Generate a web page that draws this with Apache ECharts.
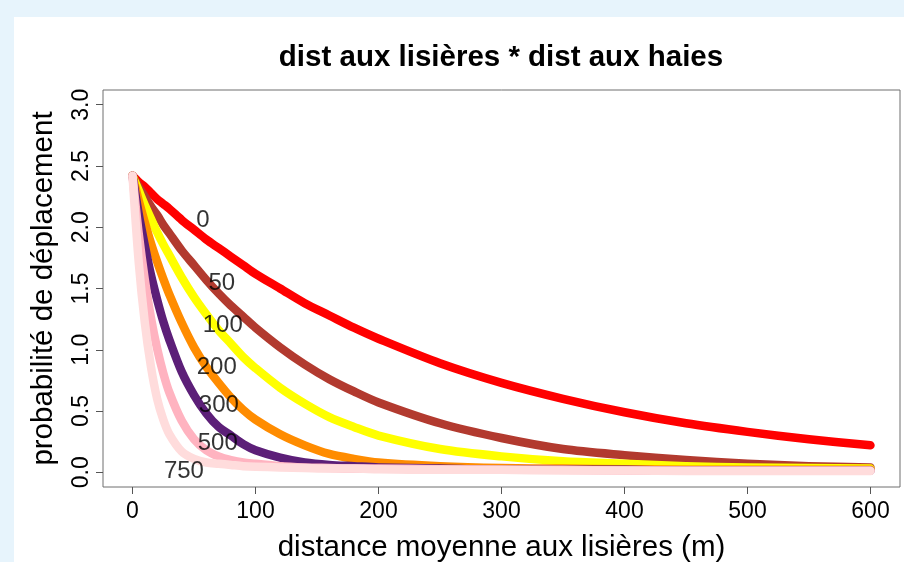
<!DOCTYPE html>
<html>
<head>
<meta charset="utf-8">
<script src="https://cdn.jsdelivr.net/npm/echarts@6/dist/echarts.min.js"></script>
<style>
  html, body { margin: 0; padding: 0; width: 904px; height: 562px; overflow: hidden; background: #e7f4fc; }
  #panel { position: absolute; left: 14px; top: 17px; width: 890px; height: 545px; background: #ffffff; }
  #chart { position: absolute; left: 0; top: 0; width: 904px; height: 562px; }
</style>
</head>
<body>
<div id="panel"></div>
<div id="chart"></div>
<script>
// Distance moyenne aux lisières (m)
const xs = [0, 5, 10, 15, 20, 25, 30, 40, 50, 60, 70, 80, 90, 100, 120, 140, 160, 180, 200, 250, 300, 350, 400, 450, 500, 550, 600];

// Distance aux haies (m), one curve per value
const hedgeDist = ['0', '50', '100', '200', '300', '500', '750'];

// Probabilité de déplacement for each hedge distance
const p0   = [2.42, 2.37, 2.33, 2.28, 2.23, 2.19, 2.15, 2.06, 1.98, 1.90, 1.83, 1.76, 1.69, 1.62, 1.50, 1.38, 1.28, 1.18, 1.09, 0.89, 0.73, 0.60, 0.49, 0.40, 0.33, 0.27, 0.22];
const p50  = [2.42, 2.33, 2.25, 2.17, 2.10, 2.02, 1.95, 1.81, 1.69, 1.57, 1.46, 1.36, 1.27, 1.18, 1.02, 0.88, 0.76, 0.66, 0.57, 0.40, 0.28, 0.19, 0.14, 0.10, 0.07, 0.05, 0.04];
const p100 = [2.42, 2.30, 2.18, 2.07, 1.96, 1.86, 1.77, 1.59, 1.43, 1.29, 1.16, 1.05, 0.94, 0.85, 0.69, 0.56, 0.45, 0.37, 0.30, 0.19, 0.13, 0.09, 0.07, 0.05, 0.04, 0.035, 0.03];
const p200 = [2.42, 2.22, 2.04, 1.87, 1.72, 1.58, 1.45, 1.22, 1.02, 0.86, 0.73, 0.61, 0.51, 0.43, 0.31, 0.22, 0.15, 0.11, 0.08, 0.05, 0.035, 0.03, 0.025, 0.02, 0.02, 0.02, 0.02];
const p300 = [2.42, 2.11, 1.85, 1.61, 1.41, 1.23, 1.08, 0.82, 0.63, 0.48, 0.37, 0.30, 0.23, 0.18, 0.12, 0.08, 0.06, 0.05, 0.04, 0.03, 0.02, 0.02, 0.02, 0.015, 0.015, 0.015, 0.015];
const p500 = [2.42, 1.95, 1.57, 1.26, 1.01, 0.81, 0.65, 0.42, 0.27, 0.18, 0.13, 0.10, 0.08, 0.07, 0.05, 0.04, 0.035, 0.03, 0.03, 0.025, 0.02, 0.02, 0.015, 0.015, 0.015, 0.015, 0.015];
const p750 = [2.42, 1.72, 1.22, 0.86, 0.60, 0.43, 0.31, 0.17, 0.11, 0.08, 0.07, 0.06, 0.05, 0.045, 0.04, 0.035, 0.03, 0.03, 0.025, 0.02, 0.02, 0.015, 0.015, 0.01, 0.01, 0.01, 0.01];

// Where each curve's hedge-distance label is written (data units)
const labelX = [57.2, 72.6, 73.4, 68.5, 70.2, 69.3, 41.8];
const labelY = [2.06, 1.544, 1.20, 0.855, 0.55, 0.24, 0.01];

// Axis ticks
const xTicks = [0, 100, 200, 300, 400, 500, 600];
const yTicks = [0, 0.5, 1.0, 1.5, 2.0, 2.5, 3.0];

const curves = [p0, p50, p100, p200, p300, p500, p750];
const colors = ['#ff0000', '#b23a2f', '#ffff00', '#ff8c00', '#5c1f78', '#ffb3c0', '#ffdcdc'];

const FONT = "'Liberation Sans', Arial, Helvetica, sans-serif";

const lineSeries = curves.map((vals, i) => ({
  type: 'line',
  name: hedgeDist[i],
  data: xs.map((x, j) => [x, vals[j]]),
  showSymbol: false,
  smooth: 0.3,
  lineStyle: { color: colors[i], width: 8.5, cap: 'round', join: 'round' },
  z: 2 + i * 0.01
}));

const labelSeries = {
  type: 'scatter',
  symbolSize: 0,
  data: hedgeDist.map((h, i) => ({ name: h, value: [labelX[i], labelY[i]] })),
  label: {
    show: true,
    position: 'inside',
    formatter: p => p.name,
    color: '#000',
    fontFamily: FONT,
    fontSize: 24
  },
  z: 10
};

const chart = echarts.init(document.getElementById('chart'), null, { renderer: 'canvas' });
chart.setOption({
  animation: false,
  backgroundColor: 'transparent',
  title: {
    text: 'dist aux lisières * dist aux haies',
    left: 496, top: 38, textAlign: 'center',
    textStyle: { fontFamily: FONT, fontWeight: 'bold', fontSize: 29.5, color: '#000' }
  },
  grid: {
    left: 103, right: 4, top: 90, bottom: 75,
    containLabel: false, outerBoundsMode: 'none',
    show: true, borderColor: '#6e6e6e', borderWidth: 1, backgroundColor: 'transparent'
  },
  xAxis: {
    type: 'value', min: -24, max: 624,
    name: 'distance moyenne aux lisières (m)',
    nameLocation: 'middle', nameGap: 46,
    nameTextStyle: { fontFamily: FONT, fontSize: 29.5, color: '#000' },
    axisLine: { show: false, onZero: false },
    axisTick: { show: true, inside: false, length: 7, customValues: xTicks, lineStyle: { color: '#555' } },
    axisLabel: { customValues: xTicks, margin: 13, fontFamily: FONT, fontSize: 23, color: '#000' },
    splitLine: { show: false }
  },
  yAxis: {
    type: 'value', min: -0.12, max: 3.12,
    name: 'probabilité de déplacement',
    nameLocation: 'middle', nameGap: 44,
    nameTextStyle: { fontFamily: FONT, fontSize: 29.5, color: '#000' },
    axisLine: { show: false, onZero: false },
    axisTick: { show: true, inside: false, length: 7, customValues: yTicks, lineStyle: { color: '#555' } },
    axisLabel: { customValues: yTicks, rotate: 90, margin: 10, fontFamily: FONT, fontSize: 23, color: '#000',
      formatter: v => v.toFixed(1) },
    splitLine: { show: false }
  },
  series: lineSeries.concat([labelSeries])
});
</script>
</body>
</html>
